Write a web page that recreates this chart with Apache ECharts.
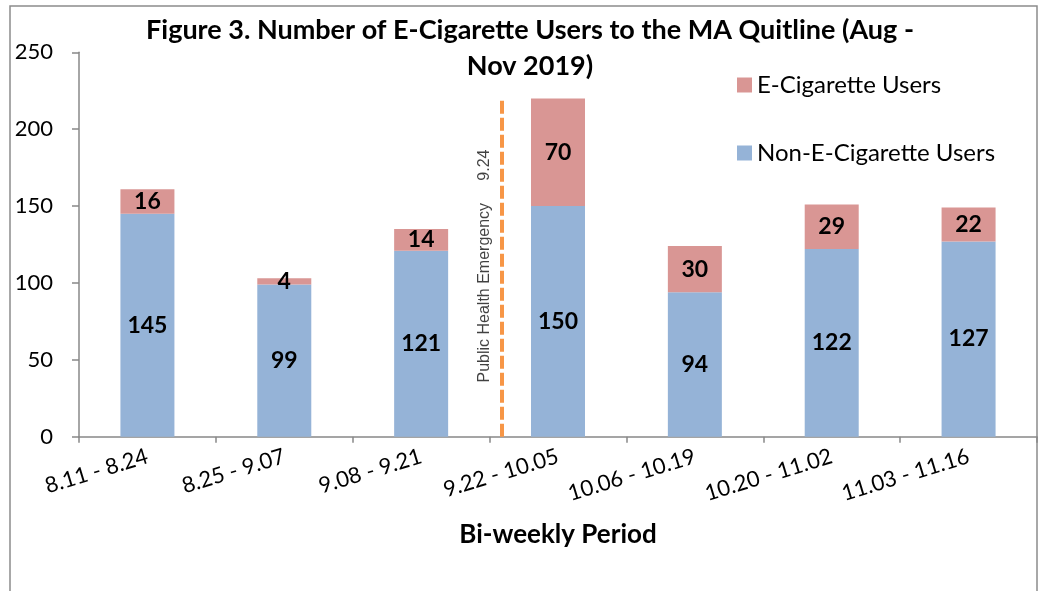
<!DOCTYPE html>
<html>
<head>
<meta charset="utf-8">
<script src="https://cdn.jsdelivr.net/npm/echarts@6/dist/echarts.min.js"></script>
<style>
html,body{margin:0;padding:0;background:#fff;}
#chart{width:1041px;height:591px;}
</style>
</head>
<body>
<div id="chart"></div>
<script>
var categories = ['8.11 - 8.24', '8.25 - 9.07', '9.08 - 9.21', '9.22 - 10.05', '10.06 - 10.19', '10.20 - 11.02', '11.03 - 11.16'];
var nonECigUsers = [145, 99, 121, 150, 94, 122, 127];
var eCigUsers = [16, 4, 14, 70, 30, 29, 22];
var yTicks = { min: 0, max: 250, interval: 50 };
var emergencyLine = { x: 2.59, yFrom: 0, yTo: 220 };
var emergencyLabel = { x: 2.464, y: 111, text: 'Public Health Emergency     9.24' };
var titleText = 'Figure 3. Number of E-Cigarette Users to the MA Quitline (Aug -\nNov 2019)';
var xAxisName = 'Bi-weekly Period';

var FONT = 'Lato, "Open Sans", sans-serif';
var chart = echarts.init(document.getElementById('chart'), null, { renderer: 'canvas' });

var option = {
  animation: false,
  backgroundColor: '#ffffff',
  title: {
    text: titleText,
    left: 530,
    textAlign: 'center',
    top: 12,
    padding: 0,
    textStyle: { fontFamily: FONT, fontWeight: 'bold', fontSize: 27, lineHeight: 36, color: '#000' }
  },
  legend: {
    orient: 'vertical',
    left: 737,
    top: 73,
    padding: 0,
    itemWidth: 15,
    itemHeight: 15,
    itemGap: 44,
    itemTextGap: 7,
    icon: 'rect',
    data: ['E-Cigarette Users', 'Non-E-Cigarette Users'],
    textStyle: { fontFamily: FONT, fontSize: 24, lineHeight: 24, color: '#000' }
  },
  grid: { left: 79, right: 4, top: 52.3, bottom: 154.3, containLabel: false },
  xAxis: [{
    type: 'category',
    data: categories,
    boundaryGap: true,
    name: xAxisName,
    nameLocation: 'middle',
    nameGap: 85,
    nameTextStyle: { fontFamily: FONT, fontWeight: 'bold', fontSize: 26, color: '#000' },
    axisLine: { lineStyle: { color: '#888', width: 1.5 } },
    axisTick: { show: true, length: 6, alignWithLabel: false, lineStyle: { color: '#888', width: 1.5 } },
    axisLabel: { interval: 0, rotate: 17, margin: 19, fontFamily: FONT, fontSize: 22, color: '#000' },
    splitLine: { show: false }
  }, {
    type: 'value',
    min: -0.5,
    max: 6.5,
    show: false,
    position: 'bottom'
  }],
  yAxis: {
    type: 'value',
    min: yTicks.min,
    max: yTicks.max,
    interval: yTicks.interval,
    axisLine: { show: true, onZero: false, lineStyle: { color: '#888', width: 1.5 } },
    axisTick: { show: true, length: 7, lineStyle: { color: '#888', width: 1.5 } },
    axisLabel: { margin: 26, fontFamily: FONT, fontSize: 22, color: '#000' },
    splitLine: { show: false }
  },
  series: [{
    name: 'Non-E-Cigarette Users',
    type: 'bar',
    stack: 'total',
    barWidth: 54,
    data: nonECigUsers,
    itemStyle: { color: '#95B3D7' },
    label: { show: true, position: 'inside', fontFamily: FONT, fontWeight: 'bold', fontSize: 23, color: '#000' }
  }, {
    name: 'E-Cigarette Users',
    type: 'bar',
    stack: 'total',
    barWidth: 54,
    data: eCigUsers,
    itemStyle: { color: '#D99694' },
    label: { show: true, position: 'inside', fontFamily: FONT, fontWeight: 'bold', fontSize: 23, color: '#000' }
  }, {
    name: 'emergency',
    type: 'scatter',
    xAxisIndex: 1,
    yAxisIndex: 0,
    symbolSize: 0,
    silent: true,
    data: [[emergencyLabel.x, emergencyLabel.y]],
    label: {
      show: true,
      position: 'inside',
      rotate: 90,
      formatter: function () { return emergencyLabel.text; },
      fontFamily: '"Liberation Sans", Arial, sans-serif',
      fontSize: 16,
      color: '#111'
    },
    markLine: {
      silent: true,
      symbol: ['none', 'none'],
      label: { show: false },
      lineStyle: { color: '#F79646', width: 4, type: [13, 4] },
      data: [[{ coord: [emergencyLine.x, emergencyLine.yFrom] }, { coord: [emergencyLine.x, emergencyLine.yTo] }]]
    }
  }],
  graphic: [{
    type: 'rect',
    silent: true,
    z: -1,
    shape: { x: 10, y: 6, width: 1027, height: 640 },
    style: { fill: 'none', stroke: '#8c8c8c', lineWidth: 1.5 }
  }]
};
chart.setOption(option);
</script>
</body>
</html>
